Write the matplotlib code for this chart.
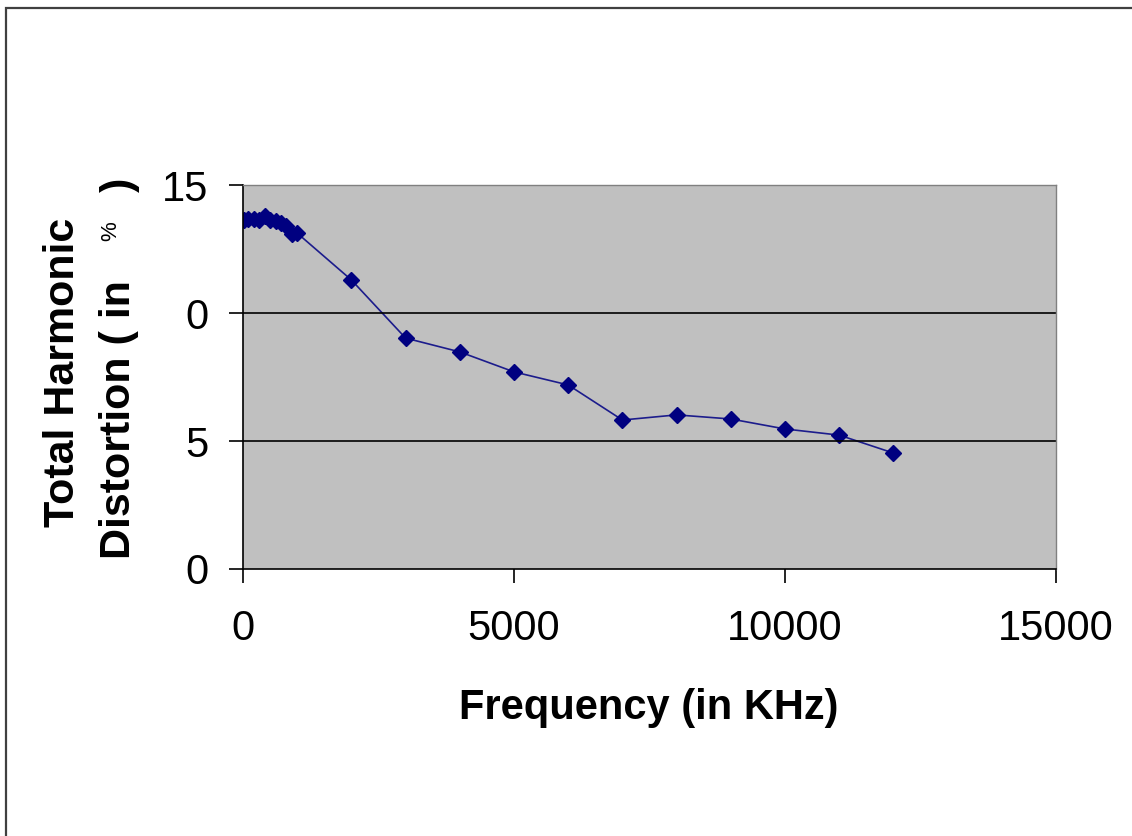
import matplotlib.pyplot as plt
from matplotlib.patches import Rectangle

# frequency in KHz and THD in %
freq = [20, 100, 200, 300, 400, 500, 600, 700, 800, 900, 1000,
        2000, 3000, 4000, 5000, 6000, 7000, 8000, 9000, 10000, 11000, 12000]
thd = [13.65, 13.67, 13.66, 13.64, 13.80, 13.65, 13.58, 13.50, 13.40, 13.10, 13.12,
       11.29, 9.02, 8.48, 7.70, 7.19, 5.82, 6.02, 5.86, 5.47, 5.23, 4.53]

y_ticks = [0, 5, 10, 15]
y_tick_labels = ["0", "5", "0", "15"]
x_ticks = [0, 5000, 10000, 15000]

W, H = 1132, 836
plt.rcParams['font.family'] = ['Liberation Sans', 'DejaVu Sans']
fig = plt.figure(figsize=(W / 100, H / 100), dpi=100)

def px(x, y):
    return x / W, 1 - y / H

# outer chart frame (cut off at right and bottom)
fig.patches.append(Rectangle(px(6, 860), 1160 / W, (860 - 8) / H, transform=fig.transFigure,
                             fill=False, edgecolor='#404040', linewidth=1.6))

ax = fig.add_axes([243 / W, 1 - 569 / H, (1056 - 243) / W, (569 - 185) / H])
ax.set_facecolor('#c0c0c0')
ax.plot(freq, thd, marker='D', markersize=8, color='#1c1c8c', linewidth=1.2,
        markerfacecolor='#000080', markeredgecolor='#000080')

ax.set_xlim(0, 15000)
ax.set_ylim(0, 15)
ax.set_xticks(x_ticks)
ax.set_yticks(y_ticks)
ax.set_yticklabels(y_tick_labels)
ax.tick_params(axis='both', direction='out', length=10, width=1.2, labelsize=30, color='black')
ax.tick_params(axis='x', pad=19)
ax.tick_params(axis='y', pad=15)

for y in y_ticks[1:3]:
    ax.axhline(y, color='black', linewidth=1.2)

for s in ['top', 'right']:
    ax.spines[s].set_color('#808080')
    ax.spines[s].set_linewidth(1.0)
for s in ['left', 'bottom']:
    ax.spines[s].set_color('black')
    ax.spines[s].set_linewidth(1.2)

# axis titles
fig.text(*px(649, 708), "Frequency (in KHz)", ha='center', va='center',
         fontsize=30, fontweight='bold')
fig.text(*px(63, 372), "Total Harmonic", ha='center', va='center', rotation=90,
         fontsize=31, fontweight='bold')
fig.text(*px(119, 559), "Distortion ( in", ha='center', va='bottom', rotation=90,
         fontsize=31, fontweight='bold')
fig.text(*px(111, 231), "%", ha='center', va='center', rotation=90, fontsize=16)
fig.text(*px(120, 185), ")", ha='center', va='center', rotation=90,
         fontsize=31, fontweight='bold')

plt.savefig("out.png", dpi=100)
